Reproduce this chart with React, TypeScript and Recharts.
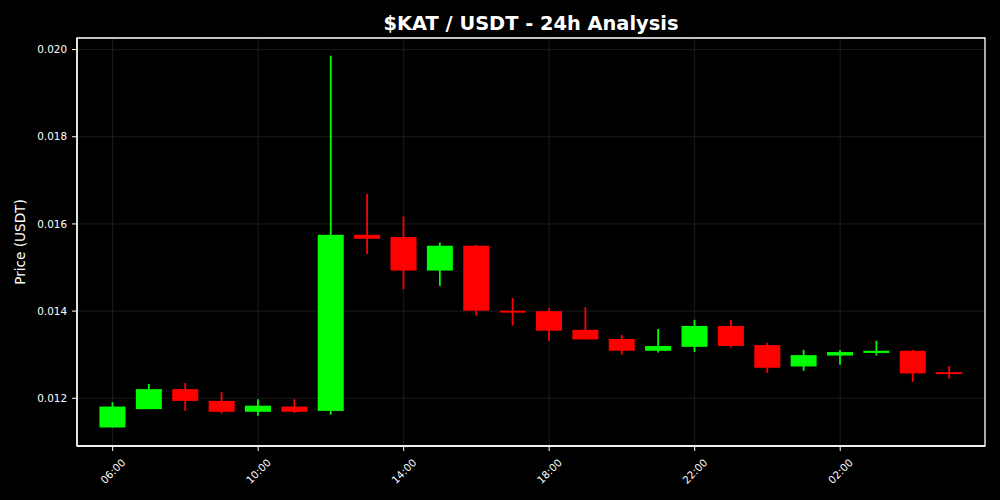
import React from 'react';
import { ComposedChart, Bar, XAxis, YAxis, CartesianGrid, ReferenceArea } from 'recharts';

const times = ['06:00','07:00','08:00','09:00','10:00','11:00','12:00','13:00','14:00','15:00','16:00','17:00','18:00','19:00','20:00','21:00','22:00','23:00','00:00','01:00','02:00','03:00','04:00','05:00'];
const opens = [0.01133,0.01175,0.01221,0.01194,0.01169,0.01181,0.01171,0.01575,0.01570,0.01493,0.01550,0.01401,0.01400,0.01357,0.01336,0.01309,0.01318,0.01366,0.01322,0.01273,0.01298,0.01304,0.01309,0.01260];
const highs = [0.01191,0.01233,0.01235,0.01215,0.01198,0.01198,0.01986,0.01669,0.01617,0.01557,0.01552,0.01430,0.01407,0.01409,0.01345,0.01359,0.01380,0.01380,0.01327,0.01311,0.01311,0.01332,0.01311,0.01274];
const lows = [0.01133,0.01175,0.01171,0.01165,0.01160,0.01166,0.01162,0.01531,0.01450,0.01458,0.01390,0.01367,0.01332,0.01335,0.01300,0.01305,0.01306,0.01316,0.01258,0.01263,0.01277,0.01298,0.01238,0.01245];
const closes = [0.01181,0.01221,0.01194,0.01169,0.01183,0.01169,0.01575,0.01566,0.01493,0.01550,0.01401,0.01399,0.01355,0.01335,0.01309,0.01320,0.01366,0.01320,0.01270,0.01299,0.01306,0.01309,0.01257,0.01257];

const yTicks = [0.012, 0.014, 0.016, 0.018, 0.020];
const xTicks = [0, 4, 8, 12, 16, 20];
const yDomain: [number, number] = [0.010905, 0.020266];
const xDomain: [number, number] = [-0.98, 23.98];

const data = times.map((t, i) => ({
  x: i,
  time: t,
  open: opens[i],
  high: highs[i],
  low: lows[i],
  close: closes[i],
  range: [lows[i], highs[i]],
}));

const UP = '#00ff00';
const DOWN = '#ff0000';
const FONT = '"DejaVu Sans", sans-serif';

const Candle = (props: any) => {
  const { x, y, width, height, payload } = props;
  if (x == null || y == null) return null;
  const top = Math.min(y, y + height);
  const h = Math.abs(height);
  const { open, high, low, close } = payload;
  const per = high - low > 0 ? h / (high - low) : 0;
  const yOf = (v: number) => top + (high - v) * per;
  const color = close >= open ? UP : DOWN;
  const bTop = yOf(Math.max(open, close));
  let bBot = yOf(Math.min(open, close));
  if (bBot - bTop < 2) bBot = bTop + 2;
  const cx = x + width / 2;
  return (
    <g>
      <line x1={cx} x2={cx} y1={top} y2={top + h} stroke={color} strokeWidth={1.8} />
      <rect x={x} y={bTop} width={width} height={bBot - bTop} fill={color} />
    </g>
  );
};

const XTick = (props: any) => {
  const { x, y, payload } = props;
  const label = times[payload.value] ?? '';
  const cy = y + 18;
  return (
    <text
      x={x}
      y={cy}
      textAnchor="middle"
      dominantBaseline="central"
      fill="#ffffff"
      fontSize={10.4}
      fontFamily={FONT}
      transform={`rotate(-45, ${x}, ${cy})`}
    >
      {label}
    </text>
  );
};

export default function App() {
  return (
    <div style={{ position: 'fixed', left: 0, top: 0, width: 1000, height: 500, background: '#000', fontFamily: FONT }}>
      <div
        style={{
          position: 'absolute',
          left: 0,
          width: 1062,
          top: 12,
          textAlign: 'center',
          color: '#fff',
          fontWeight: 'bold',
          fontSize: 19.4,
          fontFamily: FONT,
          lineHeight: '24px',
        }}
      >
        $KAT / USDT - 24h Analysis
      </div>
      <ComposedChart
        width={1000}
        height={500}
        data={data}
        margin={{ top: 38, right: 15, bottom: 0, left: 0 }}
        style={{ position: 'absolute', left: 0, top: 0 }}
      >
        <CartesianGrid stroke="#222222" strokeWidth={0.8} />
        <XAxis
          dataKey="x"
          type="number"
          domain={xDomain}
          ticks={xTicks}
          allowDataOverflow
          height={54}
          axisLine={{ stroke: '#fff', strokeWidth: 1.3 }}
          tickLine={{ stroke: '#fff', strokeWidth: 1 }}
          tickSize={5}
          tick={<XTick />}
          interval={0}
        />
        <YAxis
          type="number"
          domain={yDomain}
          ticks={yTicks}
          allowDataOverflow
          width={77}
          axisLine={{ stroke: '#fff', strokeWidth: 1.3 }}
          tickLine={{ stroke: '#fff', strokeWidth: 1 }}
          tickSize={5}
          tickMargin={5}
          tick={{ fill: '#fff', fontSize: 10.4, fontFamily: FONT }}
          tickFormatter={(v: number) => v.toFixed(3)}
          label={{
            value: 'Price (USDT)',
            angle: -90,
            position: 'insideLeft',
            dx: 15,
            fill: '#fff',
            fontSize: 13.6,
            fontFamily: FONT,
            style: { textAnchor: 'middle' },
          }}
        />
        <Bar dataKey="range" barSize={26} shape={<Candle />} isAnimationActive={false} />
        <ReferenceArea
          x1={xDomain[0]}
          x2={xDomain[1]}
          y1={yDomain[0]}
          y2={yDomain[1]}
          fill="none"
          fillOpacity={0}
          stroke="#fff"
          strokeWidth={1.3}
          ifOverflow="visible"
        />
      </ComposedChart>
    </div>
  );
}
